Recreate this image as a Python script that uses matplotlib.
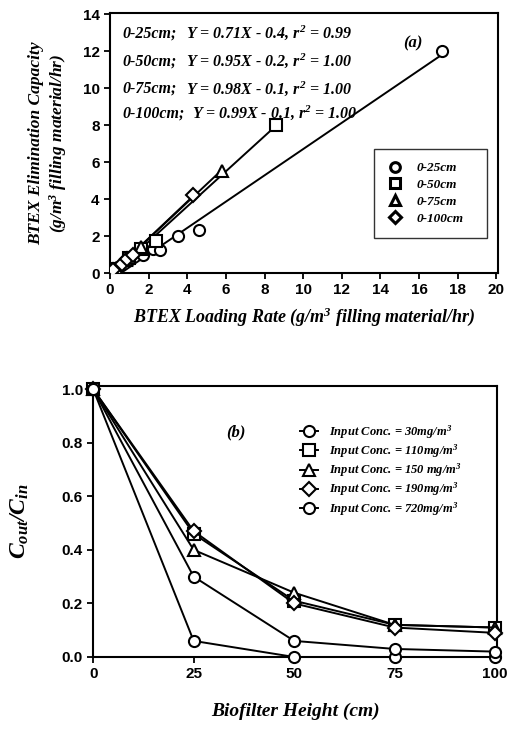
import matplotlib
matplotlib.use("Agg")
import matplotlib.pyplot as plt
from matplotlib.lines import Line2D
import numpy as np

plt.rcParams["mathtext.fontset"] = "custom"
plt.rcParams["mathtext.rm"] = "Liberation Serif:bold:italic"
plt.rcParams["mathtext.it"] = "Liberation Serif:bold:italic"
plt.rcParams["mathtext.bf"] = "Liberation Serif:bold:italic"

# ---------- Panel (a) data ----------
depths_a = ["0-25cm", "0-50cm", "0-75cm", "0-100cm"]
markers_a = ["o", "s", "^", "D"]
load_25 = [0.2, 1.7, 2.2, 2.6, 3.5, 4.6, 17.2]
ec_25 = [0.15, 1.0, 1.3, 1.25, 2.0, 2.3, 12.0]
load_50 = [0.3, 1.0, 1.6, 2.4, 8.6]
ec_50 = [0.2, 0.8, 1.3, 1.75, 8.0]
load_75 = [0.3, 0.8, 1.6, 5.8]
ec_75 = [0.25, 0.7, 1.4, 5.5]
load_100 = [0.15, 0.6, 0.9, 1.2, 4.3]
ec_100 = [0.15, 0.5, 0.75, 1.0, 4.2]
slopes = [0.71, 0.95, 0.98, 0.99]
intercepts = [-0.4, -0.2, -0.1, -0.1]
r2 = ["0.99", "1.00", "1.00", "1.00"]

# ---------- Panel (b) data ----------
height = [0, 25, 50, 75, 100]
conc_labels = ["30mg/m", "110mg/m", "150 mg/m", "190mg/m", "720mg/m"]
markers_b = ["o", "s", "^", "D", "o"]
c_30 = [1.0, 0.06, 0.0, 0.0, 0.0]
c_110 = [1.0, 0.46, 0.21, 0.12, 0.11]
c_150 = [1.0, 0.40, 0.24, 0.12, 0.11]
c_190 = [1.0, 0.47, 0.20, 0.11, 0.09]
c_720 = [1.0, 0.30, 0.06, 0.03, 0.02]

serif = "Liberation Serif"
sans = "Liberation Sans"
tfont = dict(family=serif, style="italic", weight="bold")

fig = plt.figure(figsize=(5.12, 7.29), dpi=100)

# ---------------- Panel (a) ----------------
ax1 = fig.add_axes([0.215, 0.6255, 0.758, 0.3565])
xs = [load_25, load_50, load_75, load_100]
ys = [ec_25, ec_50, ec_75, ec_100]
for i in range(4):
    m, b = slopes[i], intercepts[i]
    x0 = max(min(xs[i]), -b / m)
    x1 = max(xs[i])
    xl = np.array([x0, x1])
    ax1.plot(xl, m * xl + b, color="black", lw=1.4, zorder=2)
handles = []
for i in range(4):
    ms = 8 if markers_a[i] != "D" else 7
    ax1.plot(xs[i], ys[i], linestyle="none", marker=markers_a[i], ms=ms,
             mfc="white", mec="black", mew=1.5, zorder=3)
    handles.append(Line2D([], [], linestyle="none", marker=markers_a[i], ms=ms - 1,
                          mfc="white", mec="black", mew=2.2))
ax1.set_xlim(0, 20.1)
ax1.set_ylim(0, 14.05)
ax1.set_xticks(range(0, 21, 2))
ax1.set_yticks(range(0, 15, 2))
for s in ax1.spines.values():
    s.set_linewidth(1.5)
ax1.tick_params(direction="out", length=4, width=1.3, top=False, right=False)
for lab in ax1.get_xticklabels() + ax1.get_yticklabels():
    lab.set_fontfamily(sans)
    lab.set_fontweight("bold")
    lab.set_fontsize(11)

eq_y = [0.923, 0.815, 0.71, 0.615]
eq_x = [0.195, 0.195, 0.195, 0.212]
for i in range(4):
    name = depths_a[i] + ";"
    eq = "Y = %.2fX - %s, r$^{2}$ = %s" % (slopes[i], str(abs(intercepts[i])), r2[i])
    ax1.text(0.033, eq_y[i], name, transform=ax1.transAxes, fontsize=11.5,
             va="center", **tfont)
    ax1.text(eq_x[i], eq_y[i], eq, transform=ax1.transAxes, fontsize=11.5,
             va="center", **tfont)
ax1.text(0.755, 0.885, "(a)", transform=ax1.transAxes, fontsize=12,
         va="center", **tfont)
leg1 = ax1.legend(handles, depths_a, loc="lower left",
                  bbox_to_anchor=(0.68, 0.135, 0.29, 0.353), mode="expand",
                  frameon=True, fancybox=False,
                  edgecolor="black", handletextpad=1.0, labelspacing=0.35,
                  borderpad=1.0, handlelength=1.2, borderaxespad=0,
                  prop={"family": serif, "style": "italic", "weight": "bold",
                        "size": 9.5})
leg1.get_frame().set_linewidth(1.0)
ax1.set_xlabel(r"BTEX Loading Rate (g/m$^{3}$ filling material/hr)",
               fontsize=13, labelpad=6, **tfont)
ax1.set_ylabel("BTEX Elimination Capacity\n" +
               r"(g/m$^{3}$ filling material/hr)",
               fontsize=12.5, labelpad=10, linespacing=1.2, **tfont)

# ---------------- Panel (b) ----------------
ax2 = fig.add_axes([0.182, 0.0988, 0.789, 0.3717])
series_b = [c_30, c_110, c_150, c_190, c_720]
hb = []
for i in range(5):
    ms = 8 if markers_b[i] != "D" else 7
    ln, = ax2.plot(height, series_b[i], color="black", lw=1.4,
                   marker=markers_b[i], ms=ms, mfc="white", mec="black",
                   mew=1.5, clip_on=False, zorder=3)
    hb.append(ln)
ax2.set_xlim(0, 100.5)
ax2.set_ylim(0, 1.012)
ax2.set_xticks([0, 25, 50, 75, 100])
ax2.set_yticks([0.0, 0.2, 0.4, 0.6, 0.8, 1.0])
ax2.set_yticklabels(["0.0", "0.2", "0.4", "0.6", "0.8", "1.0"])
for s in ax2.spines.values():
    s.set_linewidth(1.5)
ax2.tick_params(direction="out", length=4, width=1.3, top=False, right=False)
for lab in ax2.get_xticklabels() + ax2.get_yticklabels():
    lab.set_fontfamily(sans)
    lab.set_fontweight("bold")
    lab.set_fontsize(11)
ax2.text(0.33, 0.83, "(b)", transform=ax2.transAxes, fontsize=12,
         va="center", **tfont)
labels_b = ["Input Conc. = " + c + r"$^{3}$" for c in conc_labels]
ax2.legend(hb, labels_b, loc="upper left", bbox_to_anchor=(0.5, 0.88),
           frameon=False, handlelength=1.4, handletextpad=0.9,
           labelspacing=0.12, borderaxespad=0,
           prop={"family": serif, "style": "italic", "weight": "bold",
                 "size": 9})
ax2.set_xlabel("Biofilter Height (cm)", fontsize=14, labelpad=15, **tfont)
ax2.set_ylabel(r"$C_{out}/C_{in}$", fontsize=17, labelpad=22)

fig.savefig("out.png", dpi=100)
